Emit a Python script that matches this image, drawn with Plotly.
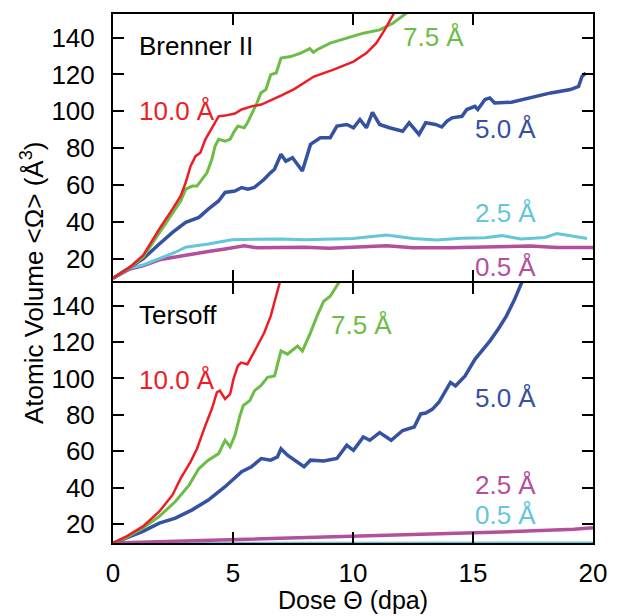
import plotly.graph_objects as go

# ---------------- Data: Brenner II (top panel) ----------------
br_x_10 = [0, 0.7, 1.25, 1.93, 2.48, 2.82, 3.03, 3.23, 3.44, 3.64, 3.85, 4.12, 4.40, 4.67, 5.08, 5.36, 5.77, 6.18, 6.6, 7.0, 7.55, 8.37, 9.19, 10.02, 10.56, 10.97, 11.32, 11.66, 12.0]
br_y_10 = [9.5, 15.5, 21.8, 36.2, 47, 54.1, 61.4, 70.3, 75.7, 77.6, 84.8, 91.1, 97.3, 97.7, 98.8, 101, 102.7, 103.7, 106, 108.5, 112.1, 118.9, 122.6, 127, 131.6, 137, 144.2, 152.3, 160]

br_x_75 = [0, 0.7, 1.25, 1.93, 2.48, 2.82, 3.03, 3.3, 3.5, 3.71, 3.92, 4.12, 4.25, 4.4, 4.67, 4.88, 5.02, 5.2, 5.47, 5.6, 5.8, 6.0, 6.16, 6.37, 6.57, 6.8, 7.0, 7.4, 7.82, 8.2, 8.35, 8.5, 9.05, 9.74, 10.43, 11.11, 11.66, 12.2, 12.5]
br_y_75 = [9.5, 15.3, 20.9, 34.4, 45.2, 51.4, 57.8, 59.5, 59.5, 63.2, 66.8, 74, 81.1, 84.8, 83.8, 84.8, 88.4, 92, 91.1, 93.8, 99.2, 104.6, 110, 111.8, 119.9, 120.8, 128.9, 129.7, 131.6, 134, 132, 133.4, 137, 139.7, 142.4, 144.2, 147.8, 153, 156]

br_x_50 = [0, 0.7, 1.25, 1.93, 2.48, 3.03, 3.58, 3.97, 4.4, 4.67, 5.08, 5.36, 5.62, 5.89, 6.3, 6.57, 6.73, 7.0, 7.2, 7.48, 7.89, 8.23, 8.64, 9.05, 9.33, 9.74, 10.02, 10.29, 10.56, 10.81, 11.11, 11.52, 12.07, 12.34, 12.75, 13.03, 13.44, 13.7, 13.92, 14.13, 14.54, 14.74, 15.08, 15.2, 15.5, 15.7, 15.9, 16.6, 17.4, 18.24, 19.06, 19.4, 19.54, 19.7]
br_y_50 = [9.5, 15.3, 20, 28.1, 34.4, 39.8, 42.5, 47, 51.4, 56, 56.8, 58.7, 57.8, 58.7, 63.2, 66.8, 68.6, 76.7, 73, 74.9, 67.7, 82.1, 85.7, 85.7, 92, 92.9, 91.1, 95.6, 91.1, 99.5, 92.9, 91.1, 89.2, 93.8, 87.5, 93.8, 92.9, 91.5, 94.7, 96.5, 97.3, 101, 102.7, 101, 106.4, 107.3, 104.6, 104.9, 107.3, 110, 111.8, 113.5, 118.9, 120.8]

br_x_25 = [0, 0.7, 1.25, 1.93, 2.6, 3.03, 3.97, 4.95, 6.0, 7.0, 8.0, 9.0, 10.0, 11.4, 12.5, 13.5, 14.5, 15.5, 16.2, 17.0, 18.0, 18.5, 19.2, 19.75]
br_y_25 = [9.5, 15.0, 16.7, 20, 23.6, 26.3, 28.1, 30.4, 30.5, 30.8, 30.4, 30.6, 31, 32.9, 31, 30.2, 31.2, 31.5, 32.6, 30.8, 31.6, 33.8, 32.5, 31.1]

br_x_05 = [0, 0.7, 1.25, 1.93, 2.6, 3.03, 3.97, 4.67, 5.47, 6.0, 7.0, 8.0, 9.0, 10.0, 11.4, 12.5, 14.0, 15.5, 17.4, 18.5, 20]
br_y_05 = [9.5, 14.5, 16.3, 19.5, 21.0, 21.8, 24, 25.4, 27.1, 26, 26.3, 26.3, 25.8, 26.3, 27.1, 26, 26, 26.5, 27, 26.2, 26.2]

# ---------------- Data: Tersoff (bottom panel) ----------------
te_x_10 = [0, 0.6, 1.25, 1.93, 2.48, 2.82, 3.23, 3.5, 3.85, 4.12, 4.33, 4.45, 4.67, 4.88, 5.02, 5.2, 5.33, 5.6, 5.94, 6.3, 6.57, 6.79, 6.93, 7.1]
te_y_10 = [9.5, 13.5, 18.7, 26.9, 36, 45.1, 54.2, 61.4, 74.2, 83.3, 92.4, 93.3, 88.7, 91.4, 99.6, 106.9, 108.7, 107.8, 116, 125.1, 134.2, 145.1, 153, 160]

te_x_75 = [0, 0.6, 1.25, 1.93, 2.6, 3.17, 3.58, 3.97, 4.4, 4.67, 4.88, 5.08, 5.29, 5.43, 5.7, 5.9, 6.16, 6.44, 6.73, 7.0, 7.27, 7.69, 7.89, 8.23, 8.5, 8.78, 9.05, 9.4, 9.6]
te_y_75 = [9.5, 13, 17.8, 24.2, 32.4, 41.4, 50.5, 55.1, 58.7, 66, 62.4, 68.7, 79.6, 85.1, 87.8, 93.3, 96, 100.6, 101.3, 115.1, 113.3, 117.8, 115, 125.1, 134.2, 142.4, 145.1, 152.4, 158]

te_x_50 = [0, 0.6, 1.25, 1.93, 2.6, 3.3, 3.97, 4.67, 5.08, 5.36, 5.77, 6.18, 6.57, 6.85, 7.0, 7.27, 7.96, 8.23, 8.78, 9.33, 9.74, 10.02, 10.43, 10.7, 11.11, 11.59, 12.07, 12.55, 12.82, 13.03, 13.3, 13.58, 14.06, 14.27, 14.67, 15.08, 15.36, 15.7, 16.04, 16.39, 16.73, 17.0, 17.2]
te_y_50 = [9.5, 12.5, 16, 20.5, 23.3, 27.8, 33.2, 40.5, 45.1, 48.7, 51.5, 56, 55.1, 56.9, 61.4, 57.8, 51.5, 55.1, 54.6, 56, 63.3, 60.5, 67.8, 66, 70.2, 66, 71.4, 73.3, 80.5, 81, 83, 86.9, 97.8, 95.9, 101.4, 110.5, 115, 120.5, 126.9, 134.2, 143.3, 152.4, 158]

te_x_25 = [0, 5, 10, 15, 17, 19.2, 20]
te_y_25 = [9.6, 11.4, 13.6, 15.1, 16.0, 17.2, 18.0]

te_x_05 = [0, 10, 20]
te_y_05 = [9.5, 9.6, 9.6]

# labels
series_labels = ["10.0 Å", "7.5 Å", "5.0 Å", "2.5 Å", "0.5 Å"]
panel_titles = ["Brenner II", "Tersoff"]
x_ticks = [0, 5, 10, 15, 20]
y_ticks = [20, 40, 60, 80, 100, 120, 140]

RED = "#ee1d25"
GREEN = "#6bbd45"
BLUE = "#3551a2"
CYAN = "#63c7d8"
MAGENTA = "#b3509e"
FONT = "Liberation Sans, Arial, Helvetica, sans-serif"
FS = 26

fig = go.Figure()

def add(x, y, color, width, xa, ya):
    fig.add_trace(go.Scatter(x=x, y=y, mode="lines", xaxis=xa, yaxis=ya,
                             line=dict(color=color, width=width), showlegend=False,
                             hoverinfo="skip"))

# top panel (x2, y2)
add(br_x_05, br_y_05, MAGENTA, 3.5, "x2", "y2")
add(br_x_25, br_y_25, CYAN, 3.0, "x2", "y2")
add(br_x_50, br_y_50, BLUE, 3.5, "x2", "y2")
add(br_x_75, br_y_75, GREEN, 3.0, "x2", "y2")
add(br_x_10, br_y_10, RED, 2.5, "x2", "y2")

# bottom panel (x, y)
add(te_x_05, te_y_05, CYAN, 3.0, "x", "y")
add(te_x_25, te_y_25, MAGENTA, 3.5, "x", "y")
add(te_x_50, te_y_50, BLUE, 3.5, "x", "y")
add(te_x_75, te_y_75, GREEN, 3.0, "x", "y")
add(te_x_10, te_y_10, RED, 2.5, "x", "y")

W, H = 619, 616
ml, mr, mt, mb = 113, 20, 14, 73
ph = H - mt - mb
split_lo = (543 - 283) / ph
split_hi = (543 - 281) / ph

axis_common = dict(showline=True, linecolor="black", linewidth=2, mirror="allticks",
                   ticks="inside", ticklen=11, tickwidth=1.5, tickcolor="black",
                   showgrid=False, zeroline=False,
                   tickfont=dict(family=FONT, size=FS, color="black"))

fig.update_layout(
    width=W, height=H, margin=dict(l=ml, r=mr, t=mt, b=mb),
    paper_bgcolor="white", plot_bgcolor="white",
    xaxis=dict(range=[0, 20], tickvals=x_ticks, anchor="y", domain=[0, 1],
               ticklabelstandoff=6, **axis_common),
    xaxis2=dict(range=[0, 20], tickvals=x_ticks, anchor="y2", domain=[0, 1],
                showticklabels=False, matches="x", **axis_common),
    yaxis=dict(range=[9.6, 152.4], tickvals=y_ticks, domain=[0, split_lo], anchor="x",
               ticklabelstandoff=11, **axis_common),
    yaxis2=dict(range=[8.0, 152.8], tickvals=y_ticks, domain=[split_hi, 1], anchor="x2",
                ticklabelstandoff=11, **axis_common),
)

def label(text, x, y, color, yref):
    fig.add_annotation(text=text, x=x, y=y, xref="x" if yref == "y" else "x2", yref=yref,
                       xanchor="left", yanchor="middle", showarrow=False,
                       font=dict(family=FONT, size=FS, color=color))

# top panel labels
label(panel_titles[0], 0.98, 135.5, "black", "y2")
label(series_labels[0], 1.0, 100.2, RED, "y2")
label(series_labels[1], 11.98, 140.6, GREEN, "y2")
label(series_labels[2], 14.98, 90.2, BLUE, "y2")
label(series_labels[3], 14.98, 44.8, CYAN, "y2")
label(series_labels[4], 14.98, 15.4, MAGENTA, "y2")

# bottom panel labels
label(panel_titles[1], 1.02, 134.6, "black", "y")
label(series_labels[0], 1.0, 99.4, RED, "y")
label(series_labels[1], 9.0, 129.6, GREEN, "y")
label(series_labels[2], 14.98, 89.5, BLUE, "y")
label(series_labels[3], 14.98, 41.2, MAGENTA, "y")
label(series_labels[4], 14.98, 25.2, CYAN, "y")

# axis titles
fig.add_annotation(text="Atomic Volume &lt;Ω&gt; (Å<sup>3</sup>)", textangle=-90,
                   x=(31 - ml) / (W - ml - mr), y=(543 - 283) / ph, xref="paper", yref="paper",
                   xanchor="center", yanchor="middle", showarrow=False,
                   font=dict(family=FONT, size=FS, color="black"))
fig.add_annotation(text="Dose Θ (dpa)",
                   x=0.5, y=(543 - 600) / ph, xref="paper", yref="paper",
                   xanchor="center", yanchor="middle", showarrow=False,
                   font=dict(family=FONT, size=25, color="black"))

fig.write_html("out.html")
